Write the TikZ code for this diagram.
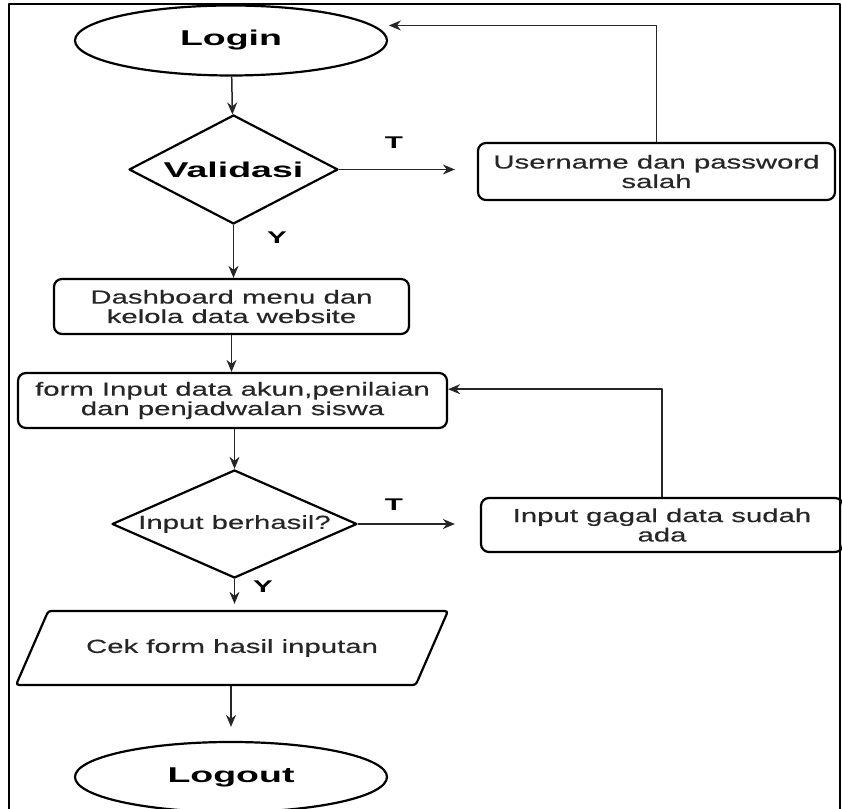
\documentclass[tikz,border=0pt]{standalone}
\usepackage{fontspec}
\newfontfamily\flowfont{Liberation Sans}[FakeStretch=1.55, FakeBold=0.4]
\newfontfamily\headfont{Liberation Sans}[FakeStretch=1.75]
\usetikzlibrary{arrows.meta,shapes.geometric}

\begin{document}
\begin{tikzpicture}[>={Stealth[length=12bp,width=10bp]}, line join=round]
 \tikzstyle{terminal}=[draw, ellipse, line width=2.2bp, minimum width=312bp, minimum height=70bp, inner sep=0pt, font=\headfont\bfseries\fontsize{21.5}{24}\selectfont]
 \tikzstyle{decision}=[draw, diamond, line width=2.2bp, shape aspect=2.27, inner sep=0pt]
 \tikzstyle{process}=[draw, rectangle, rounded corners=8bp, line width=2.2bp, align=center, text=black!85, font=\flowfont\fontsize{19}{19.5}\selectfont]
 \tikzstyle{inout}=[draw, trapezium, trapezium left angle=37, trapezium right angle=143, trapezium stretches body, minimum width=432bp, minimum height=74bp, rounded corners=3bp, line width=2.2bp, text=black!85, font=\flowfont\fontsize{19}{19.5}\selectfont]
 \tikzstyle{flow}=[draw=black!85, line width=1.5bp]
 \tikzstyle{lbl}=[font=\headfont\bfseries\fontsize{17}{17}\selectfont]
 \useasboundingbox (0bp,0bp) rectangle (842bp,809bp);
 \draw [line width=2.8bp] (9bp,-10bp) -- (9bp,805bp) -- (840bp,805bp) -- (840bp,-10bp);

 \node (login) at (231bp,768.5bp) [terminal] {Login};
 \node (valid) at (233.5bp,639.5bp) [decision, minimum width=209bp, minimum height=109bp, font=\headfont\bfseries\fontsize{21.5}{24}\selectfont] {Validasi};
 \node (user) at (656.5bp,637.5bp) [process, minimum width=357bp, minimum height=57bp] {Username dan password\\salah};
 \node (dash) at (231.5bp,502.5bp) [process, minimum width=355bp, minimum height=55bp] {Dashboard menu dan\\kelola data website};
 \node (form) at (232.5bp,408.5bp) [process, minimum width=429bp, minimum height=55bp] {form Input data akun,penilaian\\dan penjadwalan siswa};
 \node (input) at (234.5bp,285bp) [decision, minimum width=245bp, minimum height=108bp, text=black!85, font=\flowfont\fontsize{19}{19.5}\selectfont] {Input berhasil?};
 \node (gagal) at (662bp,284bp) [process, minimum width=362bp, minimum height=54bp] {Input gagal data sudah\\ada};
 \node (cek) at (232bp,161bp) [inout] {Cek form hasil inputan};
 \node (logout) at (231bp,32bp) [terminal] {Logout};

 \node (t1) at (394bp,666bp) [lbl] {T};
 \node (y1) at (277bp,571bp) [lbl] {Y};
 \node (t2) at (394bp,304bp) [lbl] {T};
 \node (y2) at (263bp,222bp) [lbl] {Y};

 \draw [flow,->] (login) -- (valid);
 \draw [flow,->,shorten >=22bp] (valid.east) -- (valid.east -| user.west);
 \draw [flow,->,shorten >=15bp] (user.north) |- (login.6);
 \draw [flow,->] (valid.south) -- (valid.south |- dash.north);
 \draw [flow,->] (dash.south) -- (dash.south |- form.north);
 \draw [flow,->] (form.south -| input.north) -- (input.north);
 \draw [flow,->,shorten >=25bp] (input.east) -- (input.east -| gagal.west);
 \draw [flow,->] (gagal.north) |- (form.3.6);
 \draw [flow,->,shorten >=6bp] (input.south) -- (input.south |- cek.north);
 \draw [flow,->,shorten >=14bp] (cek.south -| logout.north) -- (logout.north);

\end{tikzpicture}
\end{document}
